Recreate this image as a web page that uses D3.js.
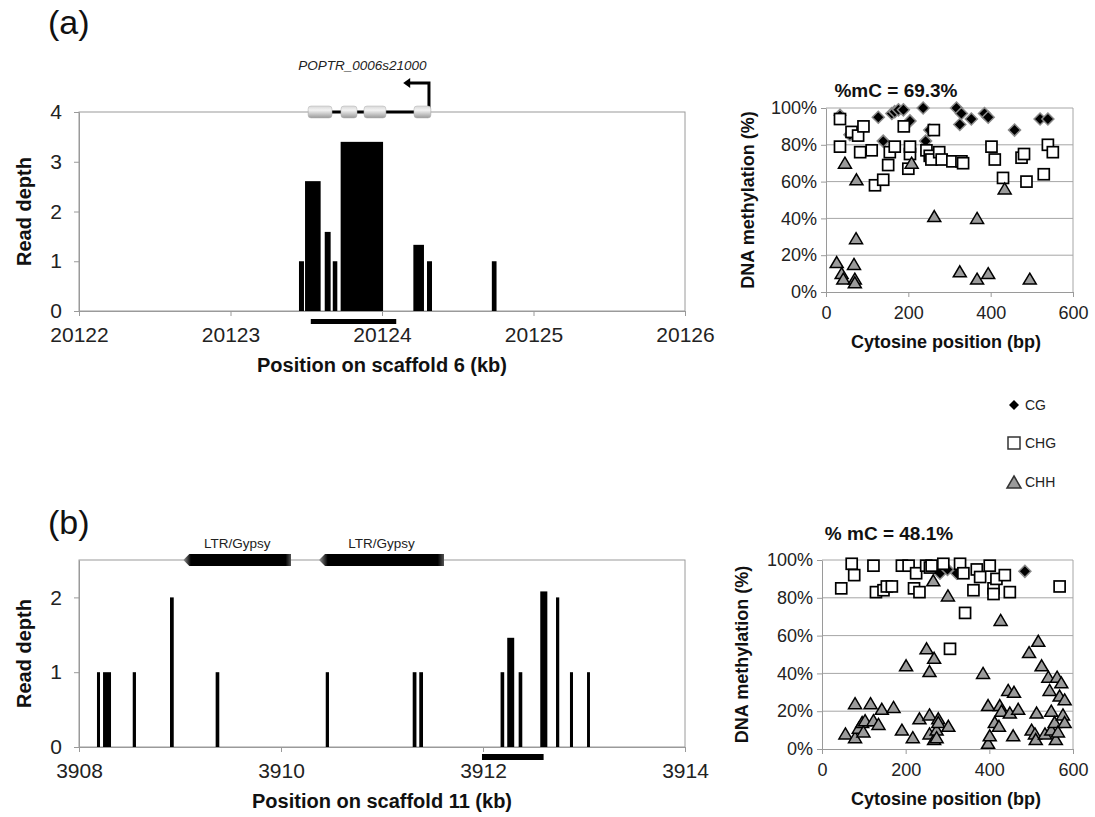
<!DOCTYPE html>
<html lang="en">
<head>
<meta charset="utf-8">
<script src="https://d3js.org/d3.v7.min.js"></script>
<style>
body { margin: 0; background: #fff; }
text { font-family: "Liberation Sans", Arial, sans-serif; }
</style>
</head>
<body>
<script type="text/javascript">

// ---- panel (a): read depth on scaffold 6 (kb)
var depthA_start = [20123.452, 20123.492, 20123.622, 20123.675, 20123.727, 20124.207, 20124.297, 20124.725];
var depthA_end   = [20123.485, 20123.595, 20123.661, 20123.705, 20124.007, 20124.277, 20124.330, 20124.756];
var depthA_value = [1, 2.61, 1.59, 1, 3.40, 1.33, 1, 1];
var ticksA = [20122, 20123, 20124, 20125, 20126];
var regionA = [20123.53, 20124.094];
var exonA_start = [20123.512, 20123.729, 20123.881, 20124.211];
var exonA_end   = [20123.670, 20123.835, 20124.026, 20124.323];
var geneA_tss = 20124.31, geneA_arrowTip = 20124.14;
var geneA_name = "POPTR_0006s21000";

// ---- panel (b): read depth on scaffold 11 (kb)
var depthB_start = [3908.178, 3908.238, 3908.532, 3908.901, 3909.353, 3910.443, 3911.304, 3911.369,
                    3912.174, 3912.240, 3912.353, 3912.567, 3912.723, 3912.861, 3913.030];
var depthB_end   = [3908.208, 3908.317, 3908.564, 3908.938, 3909.389, 3910.475, 3911.341, 3911.406,
                    3912.210, 3912.309, 3912.389, 3912.637, 3912.755, 3912.891, 3913.059];
var depthB_value = [1, 1, 1, 2, 1, 1, 1, 1, 1, 1.46, 1, 2.08, 2, 1, 1];
var ticksB = [3908, 3910, 3912, 3914];
var regionB = [3911.99, 3912.60];
var teB_start = [3909.033, 3910.376];
var teB_end   = [3910.099, 3911.614];
var teB_name  = ["LTR/Gypsy", "LTR/Gypsy"];

// ---- methylation scatter, [cytosine position (bp), % methylation]
var cgA = [[34,96],[58,85.5],[127,95],[139,82],[160,97],[167,98],[176,99],[188,99],[204,93],[236,100],
           [242,82],[252,88],[317,100],[325,91],[329,97],[353,94],[385,97],[394,95],[458,88],[520,94],[539,94]];
var chgA = [[34,94],[34,79],[62,87],[78,85],[91,90],[83,76],[111,77],[119,58],[139,61],[151,69],[155,76],
            [167,79],[189,90],[200,67],[204,75],[204,79],[244,77],[252,74],[256,72],[262,88],[275,76],[281,72],
            [307,71],[329,71],[333,70],[402,79],[410,72],[430,62],[475,73],[481,75],[487,60],[529,64],[539,80],[551,76]];
var chhA = [[26,16],[38,10],[42,7],[46,70],[68,15],[70,7],[70,5],[73,29],[74,61],[208,70],[263,41],
            [325,11],[367,7],[367,40],[394,10],[434,56],[495,7]];
var mCA = "%mC = 69.3%";

var cgB = [[282,93],[300,95],[322,93],[485,94]];
var chgB = [[46,85],[71,98],[77,92],[123,97],[129,83],[147,84],[155,86],[167,86],[191,97],[207,97],[220,85],
            [225,93],[233,83],[249,97],[258,96],[262,97],[290,98],[306,53],[330,98],[338,93],[342,72],[362,84],
            [370,95],[378,91],[401,97],[410,85],[410,82],[417,90],[437,92],[449,83],[568,86]];
var chhB = [[56,8],[79,24],[79,6],[88,11],[96,14],[99,9],[103,15],[116,24],[123,15],[135,13],[143,21],[171,22],
            [191,10],[201,44],[217,6],[233,16],[250,53],[257,41],[257,18],[257,8],[266,89],[268,48],[268,5],[274,10],
            [274,6],[278,16],[278,14],[301,81],[302,12],[385,40],[397,23],[397,3],[401,7],[413,14],[423,12],[425,23],
            [427,68],[429,20],[445,31],[449,19],[457,7],[459,30],[469,21],[495,51],[501,10],[509,8],[511,5],[513,19],
            [517,57],[525,44],[533,8],[541,38],[544,31],[548,20],[548,10],[556,14],[559,5],[562,38],[564,9],[568,28],
            [572,35],[576,18],[580,26],[580,14]];
var mCB = "% mC = 48.1%";

var contexts = ["CG", "CHG", "CHH"];

var svg = d3.select("body").append("svg")
  .attr("width", 1095)
  .attr("height", 817);

var defs = svg.append("defs");
var eg = defs.append("linearGradient").attr("id", "exon").attr("x1", 0).attr("y1", 0).attr("x2", 0).attr("y2", 1);
eg.append("stop").attr("offset", "0%").attr("stop-color", "#d8d8d8");
eg.append("stop").attr("offset", "35%").attr("stop-color", "#f2f2f2");
eg.append("stop").attr("offset", "100%").attr("stop-color", "#9a9a9a");
var tg = defs.append("linearGradient").attr("id", "te").attr("x1", 0).attr("y1", 0).attr("x2", 1).attr("y2", 0);
tg.append("stop").attr("offset", "0%").attr("stop-color", "#999");
tg.append("stop").attr("offset", "7%").attr("stop-color", "#000");
tg.append("stop").attr("offset", "95%").attr("stop-color", "#000");
tg.append("stop").attr("offset", "100%").attr("stop-color", "#555");

var zip3 = (a, b, c) => a.map((v, i) => [v, b[i], c[i]]);

function depthPanel(o) {
  var x = d3.scaleLinear().domain(o.xDomain).range([79, 685]);
  var y = d3.scaleLinear().domain(o.yDomain).range([o.y0, o.yTop]);
  var g = svg.append("g");

  g.append("rect").attr("x", 79).attr("y", o.yTop).attr("width", 606).attr("height", o.y0 - o.yTop)
    .attr("fill", "none").attr("stroke", "#9a9a9a");

  g.selectAll(".bar").data(o.bars).enter().append("rect")
    .attr("x", d => x(d[0])).attr("width", d => x(d[1]) - x(d[0]))
    .attr("y", d => y(d[2])).attr("height", d => y(0) - y(d[2]))
    .attr("fill", "#000");

  var xa = g.append("g").attr("transform", "translate(0," + o.y0 + ")")
    .call(d3.axisBottom(x).tickValues(o.xTicks).tickSize(5).tickSizeOuter(0).tickPadding(11).tickFormat(d3.format("d")));
  var ya = g.append("g").attr("transform", "translate(79,0)")
    .call(d3.axisLeft(y).tickValues(o.yTicks).tickSize(5).tickSizeOuter(0).tickPadding(12).tickFormat(d3.format("d")));
  [xa, ya].forEach(a => {
    a.select(".domain").attr("stroke", "#9a9a9a");
    a.selectAll(".tick line").attr("stroke", "#9a9a9a");
    a.selectAll("text").attr("font-size", 21).attr("fill", "#222").attr("font-family", "Liberation Sans, Arial, sans-serif");
  });

  // sequenced region bar under the axis
  g.append("rect").attr("x", x(o.region[0])).attr("width", x(o.region[1]) - x(o.region[0]))
    .attr("y", o.y0 + o.regionDy).attr("height", o.regionH).attr("fill", "#000");

  g.append("text").attr("x", 382).attr("y", o.titleY).attr("text-anchor", "middle")
    .attr("font-size", 20).attr("font-weight", "bold").attr("fill", "#111").text(o.title);
  g.append("text").attr("transform", "translate(31," + ((o.y0 + o.yTop) / 2) + ") rotate(-90)")
    .attr("text-anchor", "middle").attr("font-size", 20).attr("font-weight", "bold").attr("fill", "#111")
    .text("Read depth");
  g.append("text").attr("x", 48).attr("y", o.labelY).attr("font-size", 34).attr("fill", "#111").text(o.label);
  return {x: x, y: y, g: g};
}

function marker(sel, type, s) {
  if (type === "CG") {
    sel.append("path").attr("d", "M0," + (-s) + "L" + s + ",0L0," + s + "L" + (-s) + ",0Z")
      .attr("fill", "#000").attr("stroke", "#8a8a8a").attr("stroke-width", 1.5);
  } else if (type === "CHG") {
    sel.append("rect").attr("x", -s + 0.5).attr("y", -s + 0.5).attr("width", 2 * s - 1).attr("height", 2 * s - 1)
      .attr("fill", "#fff").attr("stroke", "#000").attr("stroke-width", 1.7);
  } else {
    sel.append("path").attr("d", "M0," + (-s) + "L" + (s + 0.5) + "," + (s - 1) + "L" + (-s - 0.5) + "," + (s - 1) + "Z")
      .attr("fill", "#9b9b9b").attr("stroke", "#000").attr("stroke-width", 1.5);
  }
}

function scatterPanel(o) {
  var x = d3.scaleLinear().domain([0, 600]).range([o.left, 1073]);
  var y = d3.scaleLinear().domain([0, 100]).range([o.bottom, o.top]);
  var g = svg.append("g");
  [20, 40, 60, 80, 100].forEach(v => {
    g.append("line").attr("x1", o.left).attr("x2", 1073).attr("y1", y(v)).attr("y2", y(v)).attr("stroke", "#a6a6a6");
  });
  g.append("line").attr("x1", 1073).attr("x2", 1073).attr("y1", o.top).attr("y2", o.bottom).attr("stroke", "#a6a6a6");

  var xa = g.append("g").attr("transform", "translate(0," + o.bottom + ")")
    .call(d3.axisBottom(x).tickValues([0, 200, 400, 600]).tickSize(5).tickSizeOuter(0).tickPadding(9));
  var ya = g.append("g").attr("transform", "translate(" + o.left + ",0)")
    .call(d3.axisLeft(y).tickValues([0, 20, 40, 60, 80, 100]).tickSize(5).tickSizeOuter(0).tickPadding(4).tickFormat(d => d + "%"));
  [xa, ya].forEach(a => {
    a.select(".domain").attr("stroke", "#9a9a9a");
    a.selectAll(".tick line").attr("stroke", "#9a9a9a");
    a.selectAll("text").attr("font-size", 18).attr("fill", "#222").attr("font-family", "Liberation Sans, Arial, sans-serif");
  });

  [["CG", o.cg], ["CHG", o.chg], ["CHH", o.chh]].forEach(p => {
    g.selectAll(".m" + p[0]).data(p[1]).enter().append("g")
      .attr("transform", d => "translate(" + x(d[0]) + "," + y(d[1]) + ")")
      .each(function () { marker(d3.select(this), p[0], 6); });
  });

  g.append("text").attr("x", o.titleX).attr("y", o.titleY).attr("text-anchor", "middle")
    .attr("font-size", 19).attr("font-weight", "bold").attr("fill", "#111").text(o.mc);
  g.append("text").attr("x", 946).attr("y", o.bottom + 56).attr("text-anchor", "middle")
    .attr("font-size", 18).attr("font-weight", "bold").attr("fill", "#111").text("Cytosine position (bp)");
  g.append("text").attr("transform", "translate(" + o.ylabX + "," + ((o.top + o.bottom) / 2) + ") rotate(-90)")
    .attr("text-anchor", "middle").attr("font-size", 18).attr("font-weight", "bold").attr("fill", "#111")
    .text("DNA methylation (%)");
}

// ---------- (a)
var pa = depthPanel({
  xDomain: [20122, 20126], yDomain: [0, 4], y0: 311, yTop: 112,
  bars: zip3(depthA_start, depthA_end, depthA_value),
  xTicks: ticksA, yTicks: [0, 1, 2, 3, 4],
  region: regionA, regionDy: 8, regionH: 5,
  title: "Position on scaffold 6 (kb)", titleY: 372, label: "(a)", labelY: 34
});

// gene model above panel (a)
var gy = pa.y(4);
pa.g.append("line").attr("x1", pa.x(exonA_start[0])).attr("x2", pa.x(exonA_end[exonA_end.length - 1]))
  .attr("y1", gy).attr("y2", gy).attr("stroke", "#000").attr("stroke-width", 3);
pa.g.append("path")
  .attr("d", "M" + pa.x(geneA_tss) + "," + gy + "V" + (gy - 29) + "H" + (pa.x(geneA_arrowTip) + 5))
  .attr("fill", "none").attr("stroke", "#000").attr("stroke-width", 3);
pa.g.append("path")
  .attr("d", "M" + pa.x(geneA_arrowTip) + "," + (gy - 29) + "l7,-5l0,10z").attr("fill", "#000");
pa.g.selectAll(".exon").data(d3.zip(exonA_start, exonA_end)).enter().append("rect")
  .attr("x", d => pa.x(d[0])).attr("width", d => pa.x(d[1]) - pa.x(d[0]))
  .attr("y", gy - 6).attr("height", 12).attr("rx", 3)
  .attr("fill", "url(#exon)").attr("stroke", "#b0b0b0").attr("stroke-width", 0.5);
pa.g.append("text").attr("x", pa.x(20123.87)).attr("y", 70).attr("text-anchor", "middle")
  .attr("font-size", 13.5).attr("font-style", "italic").attr("fill", "#222").text(geneA_name);

// ---------- (b)
var pb = depthPanel({
  xDomain: [3908, 3914], yDomain: [0, 2.5], y0: 747, yTop: 560,
  bars: zip3(depthB_start, depthB_end, depthB_value),
  xTicks: ticksB, yTicks: [0, 1, 2],
  region: regionB, regionDy: 7, regionH: 6,
  title: "Position on scaffold 11 (kb)", titleY: 808, label: "(b)", labelY: 534
});

// transposable elements above panel (b)
var ty = pb.y(2.5);
pb.g.selectAll(".te").data(d3.zip(teB_start, teB_end, teB_name)).enter().append("path")
  .attr("d", d => {
    var a = pb.x(d[0]), b = pb.x(d[1]);
    return "M" + a + "," + ty + "L" + (a + 6) + "," + (ty - 6) + "H" + b + "V" + (ty + 6) + "H" + (a + 6) + "Z";
  })
  .attr("fill", "url(#te)");
pb.g.selectAll(".tel").data(d3.zip(teB_start, teB_end, teB_name)).enter().append("text")
  .attr("x", d => (pb.x(d[0]) + pb.x(d[1])) / 2).attr("y", 548).attr("text-anchor", "middle")
  .attr("font-size", 13.5).attr("fill", "#222").text(d => d[2]);

// ---------- scatters
scatterPanel({ left: 826, top: 108, bottom: 292, cg: cgA, chg: chgA, chh: chhA,
  mc: mCA, titleX: 896, titleY: 97, ylabX: 754 });
scatterPanel({ left: 822, top: 560, bottom: 749, cg: cgB, chg: chgB, chh: chhB,
  mc: mCB, titleX: 889, titleY: 540, ylabX: 748 });

// ---------- legend
var lg = svg.append("g");
var ly = [405, 443, 482];
contexts.forEach((c, i) => {
  var m = lg.append("g").attr("transform", "translate(1014," + ly[i] + ")");
  if (c === "CG") {
    m.append("path").attr("d", "M0,-5L5,0L0,5L-5,0Z").attr("fill", "#000");
  } else if (c === "CHG") {
    m.append("rect").attr("x", -6).attr("y", -6).attr("width", 12).attr("height", 12)
      .attr("fill", "#fff").attr("stroke", "#333").attr("stroke-width", 1.5);
  } else {
    m.append("path").attr("d", "M0,-6L7,6L-7,6Z").attr("fill", "#9b9b9b").attr("stroke", "#333").attr("stroke-width", 1.5);
  }
  lg.append("text").attr("x", 1025).attr("y", ly[i] + 5).attr("font-size", 14).attr("fill", "#222").text(c);
});

</script>
</body>
</html>
